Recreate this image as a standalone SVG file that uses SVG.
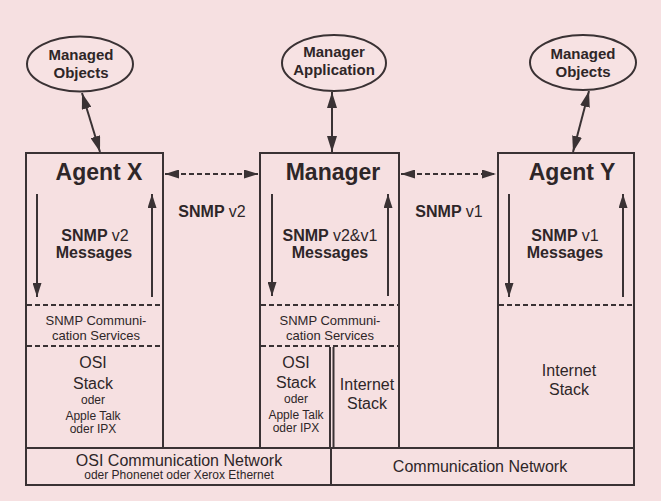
<svg xmlns="http://www.w3.org/2000/svg" width="661" height="501" viewBox="0 0 661 501">
<defs>
<style>
.bx{fill:none;stroke:#3a3234;stroke-width:2}
.ln{fill:none;stroke:#3a3234;stroke-width:2}
.ds{fill:none;stroke:#3a3234;stroke-width:2;stroke-dasharray:5 3}
.el{fill:#f7e2e3;stroke:#3a3234;stroke-width:2}
.t{font-family:"Liberation Sans",Arial,sans-serif;fill:#2e2628;text-anchor:middle}
.ttl{font-size:23px;font-weight:bold}
.msg{font-size:16px;font-weight:bold}
.v{font-weight:normal}
.svc{font-size:13px}
.stk{font-size:16px}
.sm{font-size:12px}
.el-t{font-size:15px;font-weight:bold}
</style>
<marker id="ah" viewBox="0 0 14 9" refX="14" refY="4.5" markerWidth="14" markerHeight="9" markerUnits="userSpaceOnUse" orient="auto-start-reverse"><path d="M0,0 L14,4.5 L0,9 Z" fill="#3a3234"/></marker>
<marker id="ahb" viewBox="0 0 16 10" refX="16" refY="5" markerWidth="16" markerHeight="10" markerUnits="userSpaceOnUse" orient="auto-start-reverse"><path d="M0,0 L16,5 L0,10 Z" fill="#3a3234"/></marker>
<marker id="ahd" viewBox="0 0 14 9" refX="14" refY="4.5" markerWidth="14" markerHeight="9" markerUnits="userSpaceOnUse" orient="auto-start-reverse"><path d="M0,0 L14,4.5 L0,9 Z" fill="#3a3234"/></marker>
</defs>
<rect x="0" y="0" width="661" height="501" fill="#f6e0e1"/>

<g id="connectors">
<line class="ln" x1="82" y1="93" x2="100" y2="152" stroke-width="3" marker-start="url(#ahb)" marker-end="url(#ahb)"/>
<line class="ln" x1="332" y1="92" x2="332" y2="152" stroke-width="3" marker-start="url(#ahb)" marker-end="url(#ahb)"/>
<line class="ln" x1="589" y1="91" x2="573" y2="152" stroke-width="3" marker-start="url(#ahb)" marker-end="url(#ahb)"/>
<line class="ds" x1="165" y1="174" x2="258" y2="174" marker-start="url(#ahd)" marker-end="url(#ahd)"/>
<line class="ds" x1="401" y1="174" x2="496" y2="174" marker-start="url(#ahd)" marker-end="url(#ahd)"/>
<text class="t msg" x="212" y="217" font-size="17">SNMP <tspan class="v">v2</tspan></text>
<text class="t msg" x="449" y="217" font-size="17">SNMP <tspan class="v">v1</tspan></text>
</g>

<g id="obj-x">
<ellipse class="el" cx="80" cy="64" rx="53" ry="27.5"/>
<text class="t el-t" x="81" y="60">Managed</text>
<text class="t el-t" x="81" y="78">Objects</text>
</g>
<g id="mgr-app">
<ellipse class="el" cx="334" cy="63" rx="52" ry="28"/>
<text class="t el-t" x="334" y="57">Manager</text>
<text class="t el-t" x="334" y="75">Application</text>
</g>
<g id="obj-y">
<ellipse class="el" cx="583" cy="62.5" rx="53" ry="27.5"/>
<text class="t el-t" x="583" y="59">Managed</text>
<text class="t el-t" x="583" y="77">Objects</text>
</g>

<g id="agent-x">
<rect class="bx" x="26" y="153" width="137" height="295"/>
<text class="t ttl" x="99" y="180">Agent X</text>
<line class="ln" x1="37" y1="194" x2="37" y2="297" marker-end="url(#ah)"/>
<line class="ln" x1="152" y1="297" x2="152" y2="194" marker-end="url(#ah)"/>
<text class="t msg" x="95" y="241">SNMP <tspan class="v">v2</tspan></text>
<text class="t msg" x="94" y="258">Messages</text>
<line class="ds" x1="27" y1="305" x2="162" y2="305"/>
<text class="t svc" x="96" y="325">SNMP Communi-</text>
<text class="t svc" x="96" y="340">cation Services</text>
<line class="ds" x1="27" y1="346" x2="162" y2="346"/>
<text class="t stk" x="93" y="368">OSI</text>
<text class="t stk" x="93" y="389">Stack</text>
<text class="t sm" x="93" y="404">oder</text>
<text class="t sm" x="93" y="420">Apple Talk</text>
<text class="t sm" x="93" y="433">oder IPX</text>
</g>

<g id="manager">
<rect class="bx" x="260" y="153" width="139" height="295"/>
<text class="t ttl" x="333" y="180">Manager</text>
<line class="ln" x1="272" y1="194" x2="272" y2="296" marker-end="url(#ah)"/>
<line class="ln" x1="388" y1="296" x2="388" y2="194" marker-end="url(#ah)"/>
<text class="t msg" x="330" y="241">SNMP <tspan class="v">v2&amp;v1</tspan></text>
<text class="t msg" x="330" y="258">Messages</text>
<line class="ds" x1="261" y1="305" x2="398" y2="305"/>
<text class="t svc" x="330" y="325">SNMP Communi-</text>
<text class="t svc" x="330" y="340">cation Services</text>
<line class="ds" x1="261" y1="346" x2="398" y2="346"/>
<line class="ln" x1="330" y1="347" x2="330" y2="448" stroke-width="1.5"/>
<line class="ln" x1="333.5" y1="347" x2="333.5" y2="448" stroke-width="1.5"/>
<text class="t stk" x="296" y="368">OSI</text>
<text class="t stk" x="296" y="388">Stack</text>
<text class="t sm" x="296" y="403">oder</text>
<text class="t sm" x="296" y="419">Apple Talk</text>
<text class="t sm" x="296" y="432">oder IPX</text>
<text class="t stk" x="367" y="390">Internet</text>
<text class="t stk" x="367" y="409">Stack</text>
</g>

<g id="agent-y">
<rect class="bx" x="498" y="153" width="136" height="295"/>
<text class="t ttl" x="572" y="180">Agent Y</text>
<line class="ln" x1="509" y1="194" x2="509" y2="297" marker-end="url(#ah)"/>
<line class="ln" x1="623" y1="297" x2="623" y2="194" marker-end="url(#ah)"/>
<text class="t msg" x="565" y="241">SNMP <tspan class="v">v1</tspan></text>
<text class="t msg" x="565" y="258">Messages</text>
<line class="ds" x1="499" y1="305" x2="633" y2="305"/>
<text class="t stk" x="569" y="376">Internet</text>
<text class="t stk" x="569" y="395">Stack</text>
</g>

<g id="networks">
<rect class="bx" x="26" y="448" width="608" height="37"/>
<line class="ln" x1="331" y1="448" x2="331" y2="485"/>
<text class="t stk" x="179" y="466">OSI Communication Network</text>
<text class="t sm" x="179" y="479">oder Phonenet oder Xerox Ethernet</text>
<text class="t stk" x="480" y="472">Communication Network</text>
</g>
</svg>
